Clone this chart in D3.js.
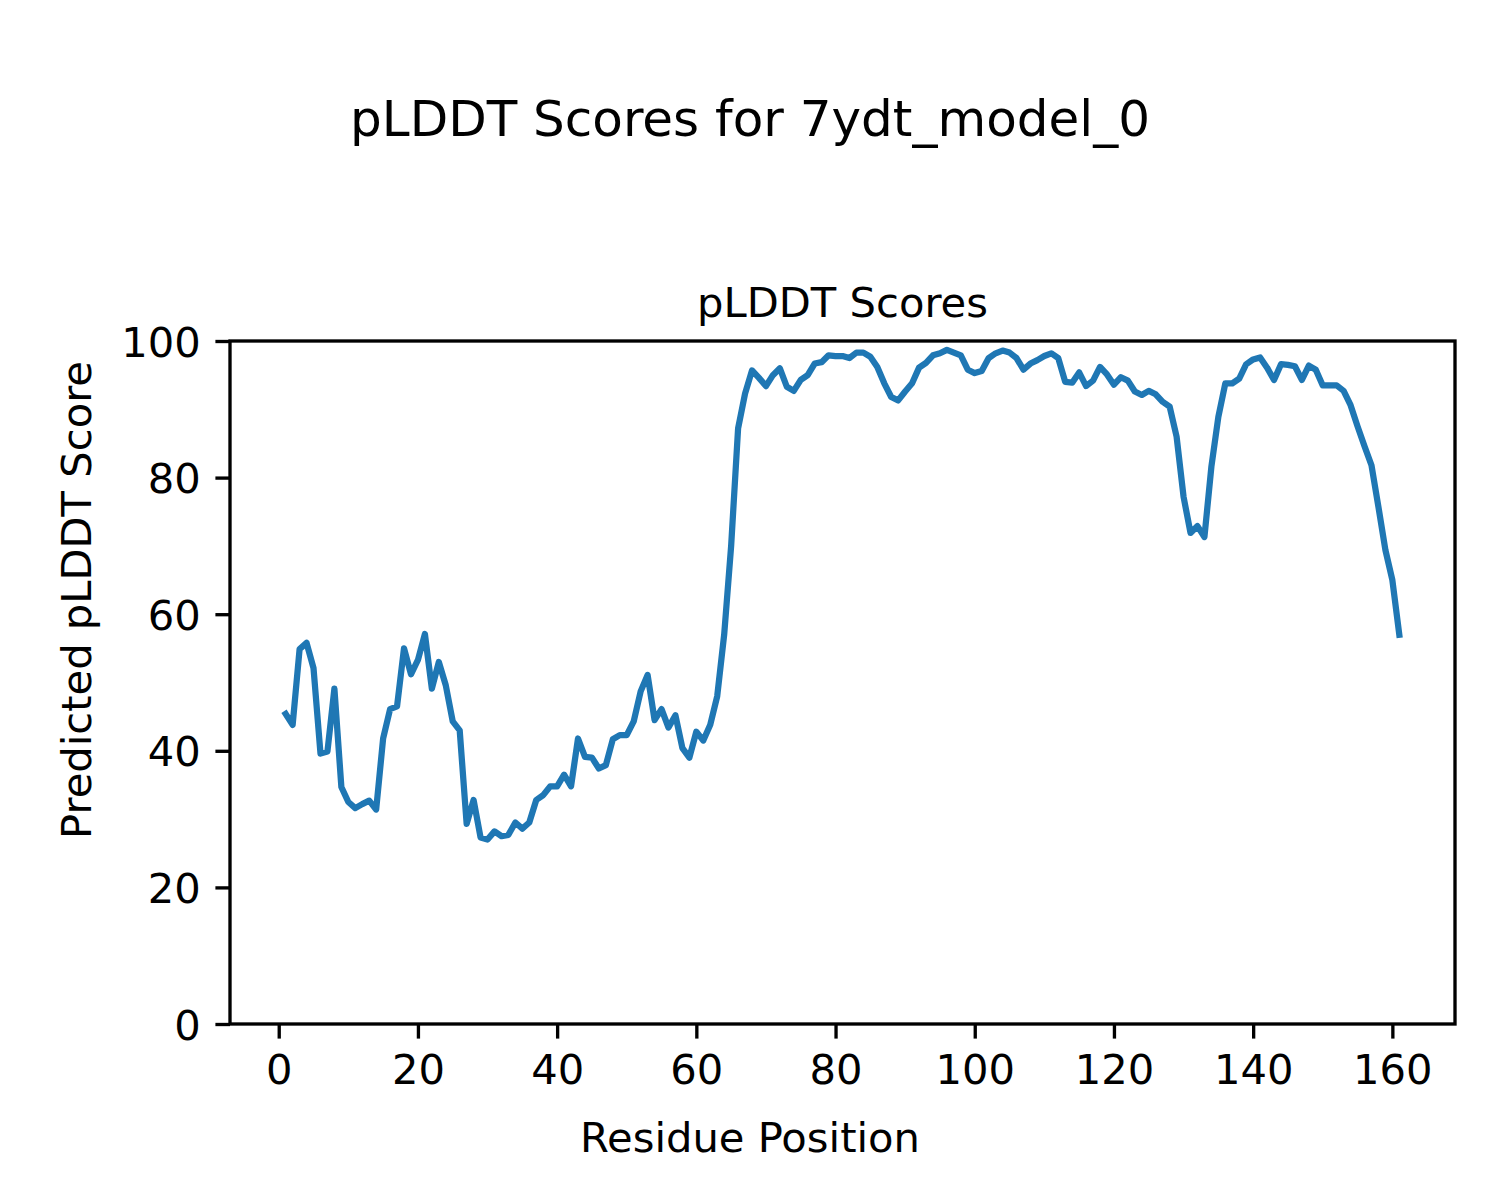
<!DOCTYPE html>
<html>
<head>
<meta charset="utf-8">
<script src="https://cdn.jsdelivr.net/npm/d3@7"></script>
<style>
  html, body { margin: 0; padding: 0; background: #fff; }
  svg { display: block; }
  text { font-family: "DejaVu Sans", sans-serif; fill: #000; }
</style>
</head>
<body>
<script>
const figTitle = "pLDDT Scores for 7ydt_model_0";
const axTitle = "pLDDT Scores";
const xLabel = "Residue Position";
const yLabel = "Predicted pLDDT Score";
const xTicks = [0, 20, 40, 60, 80, 100, 120, 140, 160];
const yTicks = [0, 20, 40, 60, 80, 100];
const scores = [
  45.4, 43.8, 54.9, 55.8, 52.1, 39.6, 39.9, 49.1, 34.7, 32.5,
  31.6, 32.2, 32.7, 31.4, 41.8, 46.1, 46.5, 55.0, 51.2, 53.3,
  57.1, 49.1, 53.0, 49.6, 44.3, 43.0, 29.3, 32.8, 27.3, 27.0,
  28.2, 27.5, 27.7, 29.5, 28.6, 29.5, 32.8, 33.5, 34.8, 34.8,
  36.5, 34.8, 41.8, 39.1, 39.0, 37.4, 37.9, 41.7, 42.3, 42.3,
  44.3, 48.7, 51.1, 44.5, 46.1, 43.4, 45.2, 40.4, 39.0, 42.8,
  41.5, 43.8, 48.0, 57.0, 70.0, 87.2, 92.3, 95.7, 94.6, 93.4,
  95.0, 96.0, 93.3, 92.7, 94.3, 95.0, 96.7, 96.9, 97.9, 97.8,
  97.8, 97.5, 98.3, 98.3, 97.7, 96.2, 93.8, 91.8, 91.3, 92.6,
  93.8, 96.1, 96.8, 97.9, 98.2, 98.7, 98.3, 97.9, 95.8, 95.3,
  95.6, 97.5, 98.2, 98.6, 98.3, 97.5, 95.8, 96.7, 97.2, 97.8,
  98.2, 97.5, 94.0, 93.9, 95.4, 93.4, 94.2, 96.2, 95.1, 93.6,
  94.7, 94.2, 92.6, 92.1, 92.7, 92.2, 91.1, 90.4, 86.0, 77.2,
  71.9, 72.9, 71.3, 81.6, 88.9, 93.8, 93.8, 94.5, 96.6, 97.3,
  97.6, 96.1, 94.3, 96.6, 96.5, 96.3, 94.3, 96.4, 95.8, 93.5,
  93.5, 93.5, 92.7, 90.6, 87.5, 84.6, 81.8, 75.7, 69.4, 65.0,
  57.0
];
const residues = scores.map((_, i) => i + 1);

const W = 1500, H = 1200;
const pLeft = 230, pRight = 1455, pTop = 341, pBottom = 1024;
const FS = 41.67;
const lw = 3.33;
const tickLen = 14.6;

const svg = d3.select("body").append("svg")
  .attr("width", W).attr("height", H).attr("viewBox", `0 0 ${W} ${H}`);
svg.append("rect").attr("width", W).attr("height", H).attr("fill", "#fff");

const x = d3.scaleLinear().domain([-7, 169]).range([pLeft, pRight]);
const y = d3.scaleLinear().domain([0, 100]).range([pBottom, pTop]);

// line
const line = d3.line().x((d, i) => x(residues[i])).y(d => y(d));
svg.append("path")
  .datum(scores)
  .attr("d", line)
  .attr("fill", "none")
  .attr("stroke", "#1f77b4")
  .attr("stroke-width", 6.25)
  .attr("stroke-linejoin", "round")
  .attr("stroke-linecap", "square");

// x axis
const xAxis = d3.axisBottom(x).tickValues(xTicks).tickSize(tickLen).tickPadding(14.6).tickFormat(d3.format("d"));
const gx = svg.append("g").attr("transform", `translate(0,${pBottom})`).call(xAxis);
gx.select(".domain").remove();
gx.selectAll(".tick line").attr("stroke", "#000").attr("stroke-width", lw);
gx.selectAll(".tick text").attr("font-size", FS).attr("dy", null).attr("y", 60)
  .attr("font-family", "DejaVu Sans");

// y axis
const yAxis = d3.axisLeft(y).tickValues(yTicks).tickSize(tickLen).tickPadding(14.6).tickFormat(d3.format("d"));
const gy = svg.append("g").attr("transform", `translate(${pLeft},0)`).call(yAxis);
gy.select(".domain").remove();
gy.selectAll(".tick line").attr("stroke", "#000").attr("stroke-width", lw);
gy.selectAll(".tick text").attr("font-size", FS).attr("dy", "0.36em")
  .attr("font-family", "DejaVu Sans");

// frame
svg.append("rect")
  .attr("x", pLeft).attr("y", pTop)
  .attr("width", pRight - pLeft).attr("height", pBottom - pTop)
  .attr("fill", "none").attr("stroke", "#000").attr("stroke-width", lw)
  .attr("stroke-linejoin", "miter");

// titles
svg.append("text").attr("x", 750).attr("y", 136).attr("text-anchor", "middle")
  .attr("font-size", 50).text(figTitle);
svg.append("text").attr("x", (pLeft + pRight) / 2).attr("y", 317).attr("text-anchor", "middle")
  .attr("font-size", FS).text(axTitle);
svg.append("text").attr("x", 750).attr("y", 1152).attr("text-anchor", "middle")
  .attr("font-size", FS).text(xLabel);
svg.append("text").attr("transform", "translate(91,600) rotate(-90)")
  .attr("text-anchor", "middle").attr("font-size", FS).text(yLabel);
</script>
</body>
</html>
